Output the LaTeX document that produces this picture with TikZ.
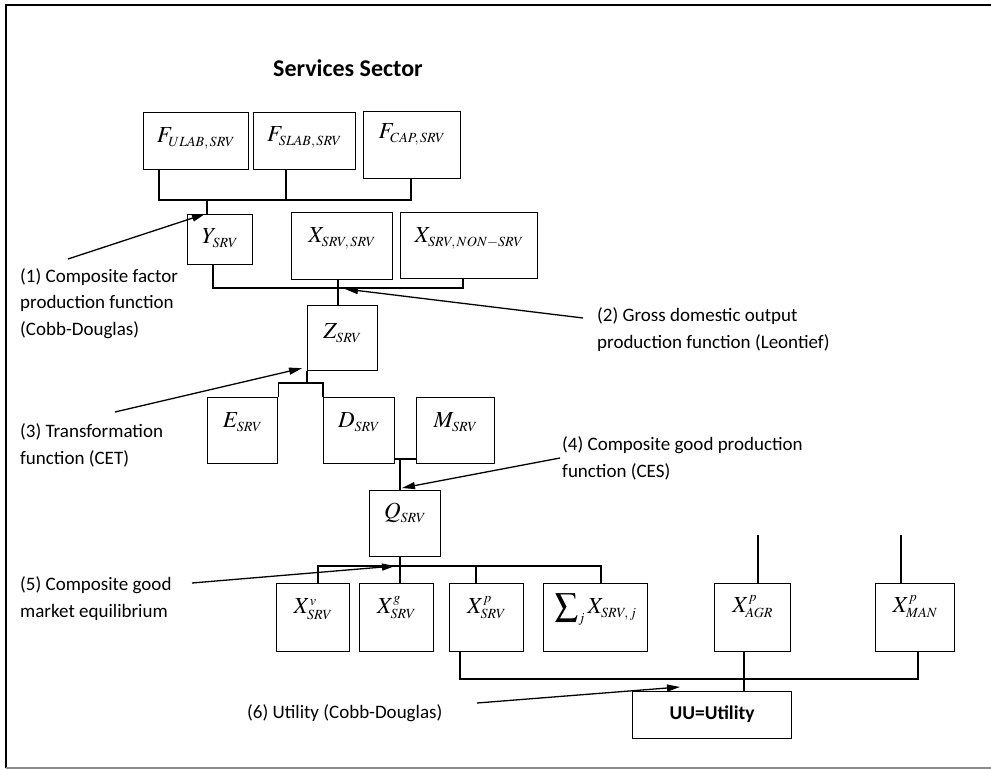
\documentclass[tikz,border=0pt]{standalone}
\usepackage{amsmath}
\usepackage{mathptmx}
\usepackage[no-math]{fontspec}
\setmainfont{Carlito}
\usepackage{tikz}
\usetikzlibrary{arrows.meta,calc}
\DeclareMathSizes{23}{23}{14}{10.5}

\newcommand{\boxfont}{\fontsize{23}{27}\selectfont}
\newcommand{\notefont}{\fontsize{19}{26.5}\selectfont}

\tikzset{
	box/.style={draw, line width=1.2pt, inner xsep=0pt, inner ysep=0pt, anchor=north west, font=\boxfont},
	link/.style={line width=1.2pt},
	note/.style={font=\notefont, align=left, inner sep=0pt, anchor=base west},
	pointer/.style={line width=1.3pt, -{Triangle[length=13pt,width=7pt]}}
}

\begin{document}
\begin{tikzpicture}[x=1pt, y=-1pt]
		\useasboundingbox (0,0) rectangle (991,770);

		% frame
		\draw[line width=2.4pt] (1000,5) -- (6,5) -- (6,768);
		\draw[line width=1.6pt, black!45] (6,768) -- (1000,768);

		\node[font=\fontsize{24}{28}\selectfont\bfseries] (title) at (348,68) {Services Sector};

		% factors
		\node[box, minimum width=105pt, text height=30pt, text depth=27pt] (fulab) at (143,112) {$F_{ULAB,\,SRV}$};
		\node[box, minimum width=102pt, text height=29pt, text depth=28pt] (fslab) at (253,112) {$F_{SLAB,\,SRV}$};
		\node[box, minimum width=97pt, text height=27pt, text depth=40pt] (fcap) at (363,111) {$F_{CAP,\,SRV}$};

		% inputs
		\node[box, minimum width=65pt, text height=29pt, text depth=21pt] (y) at (187,214) {$Y_{SRV}$};
		\node[box, minimum width=101pt, text height=30pt, text depth=37pt] (xss) at (291,212) {$X_{SRV,\,SRV}$};
		\node[box, minimum width=137pt, text height=30pt, text depth=36pt] (xns) at (400,212) {$X_{SRV,\,NON-SRV}$};

		\node[box, minimum width=70pt, text height=33pt, text depth=32pt] (z) at (307,305) {$Z_{SRV}$};

		\node[box, minimum width=70pt, text height=30pt, text depth=36pt] (e) at (207,397) {$E_{SRV}$};
		\node[box, minimum width=71pt, text height=30pt, text depth=36pt] (d) at (323,397) {$D_{SRV}$};
		\node[box, minimum width=78pt, text height=30pt, text depth=36pt] (m) at (416,397) {$M_{SRV}$};

		\node[box, minimum width=71pt, text height=28pt, text depth=38pt] (q) at (369,490) {$Q_{SRV}$};

		% uses
		\node[box, minimum width=73pt, text height=30pt, text depth=38pt] (xv) at (276,583) {$X^{v}_{SRV}$};
		\node[box, minimum width=74pt, text height=30pt, text depth=38pt] (xg) at (359,583) {$X^{g}_{SRV}$};
		\node[box, minimum width=74pt, text height=30pt, text depth=38pt] (xp) at (449,583) {$X^{p}_{SRV}$};
		\node[box, minimum width=104pt, text height=30pt, text depth=38pt] (sum) at (543,583) {$\displaystyle\sum\nolimits_j X_{SRV,\,j}$};
		\node[box, minimum width=76pt, text height=29pt, text depth=39pt] (xagr) at (714,583) {$X^{p}_{AGR}$};
		\node[box, minimum width=79pt, text height=29pt, text depth=39pt] (xman) at (875,583) {$X^{p}_{MAN}$};

		\node[box, font=\fontsize{19.5}{23}\selectfont\bfseries, minimum width=159pt, text height=28pt, text depth=19pt] (uu) at (632,691) {UU=Utility};

		% junctions
		\coordinate (j1) at (207,200);
		\coordinate (j2) at (338,288);
		\coordinate (j3) at (307,383);
		\coordinate (j4) at (400,459);
		\coordinate (j5) at (400,566);
		\coordinate (j6) at (744,679);

		\draw[link] ($(fulab.south west)+(16,0)$) |- (j1) -| ($(fcap.south west)+(48,0)$);
		\draw[link] ($(fslab.south west)+(33,0)$) |- (j1);
		\draw[link] (j1) -- (j1 |- y.north);

		\draw[link] ($(y.south west)+(26,0)$) |- (j2) -| ($(xns.south west)+(63,0)$);
		\draw[link] (xss.south -| j2) -- (j2 |- z.north);

		\draw[link] (z.south west) -- (j3);
		\draw[link] (e.north east) |- (j3) -| (d.north west);

		\draw[link] (d.east |- j4) -- (m.west |- j4);
		\draw[link] (j4) -- (j4 |- q.north);

		\draw[link] (j5 |- q.south) -- (j5 |- xg.north);
		\draw[link] ($(xv.north west)+(42,0)$) |- (j5) -| ($(sum.north west)+(58,0)$);
		\draw[link] ($(xp.north west)+(27,0)$) |- (j5);

		\draw[link] ($(xp.south west)+(11,0)$) |- (j6) -| ($(xman.south west)+(43,0)$);
		\draw[link] (j6 |- xagr.south) -- (j6 |- uu.north);
		\draw[link] ($(xagr.north west)+(44,0)$) -- ++(0,-48);
		\draw[link] ($(xman.north west)+(26,0)$) -- ++(0,-48);

		% notes (base = last line)
		\node[note] (lab1) at (20,335) {(1) Composite factor\\production function\\(Cobb-Douglas)};
		\node[note] (lab2) at (597,348) {(2) Gross domestic output\\production function (Leontief)};
		\node[note] (lab3) at (20,464) {(3) Transformation\\function (CET)};
		\node[note] (lab4) at (562,477) {(4) Composite good production\\function (CES)};
		\node[note] (lab5) at (20,617) {(5) Composite good\\market equilibrium};
		\node[note] (lab6) at (247,718) {(6) Utility (Cobb-Douglas)};

		\coordinate (s1) at (68,259);
		\coordinate (s2) at (583,318);
		\coordinate (s3) at (115,412);
		\coordinate (s4) at (560,458);
		\coordinate (s5) at (192,583);
		\coordinate (s6) at (477,703);

		\draw[pointer] (s1) -- ($(j1 |- y.north)+(-2,0)$);
		\draw[pointer] (s2) -- ($(j2)+(7,1)$);
		\draw[pointer] (s3) -- ($(z.south west)+(-5,-3)$);
		\draw[pointer] (s4) -- ($(j4 |- q.north)+(2,-2)$);
		\draw[pointer] (s5) -- ($(j5)+(-5,0)$);
		\draw[pointer] (s6) -- ($(j6)+(-64,8)$);
	\end{tikzpicture}
\end{document}
